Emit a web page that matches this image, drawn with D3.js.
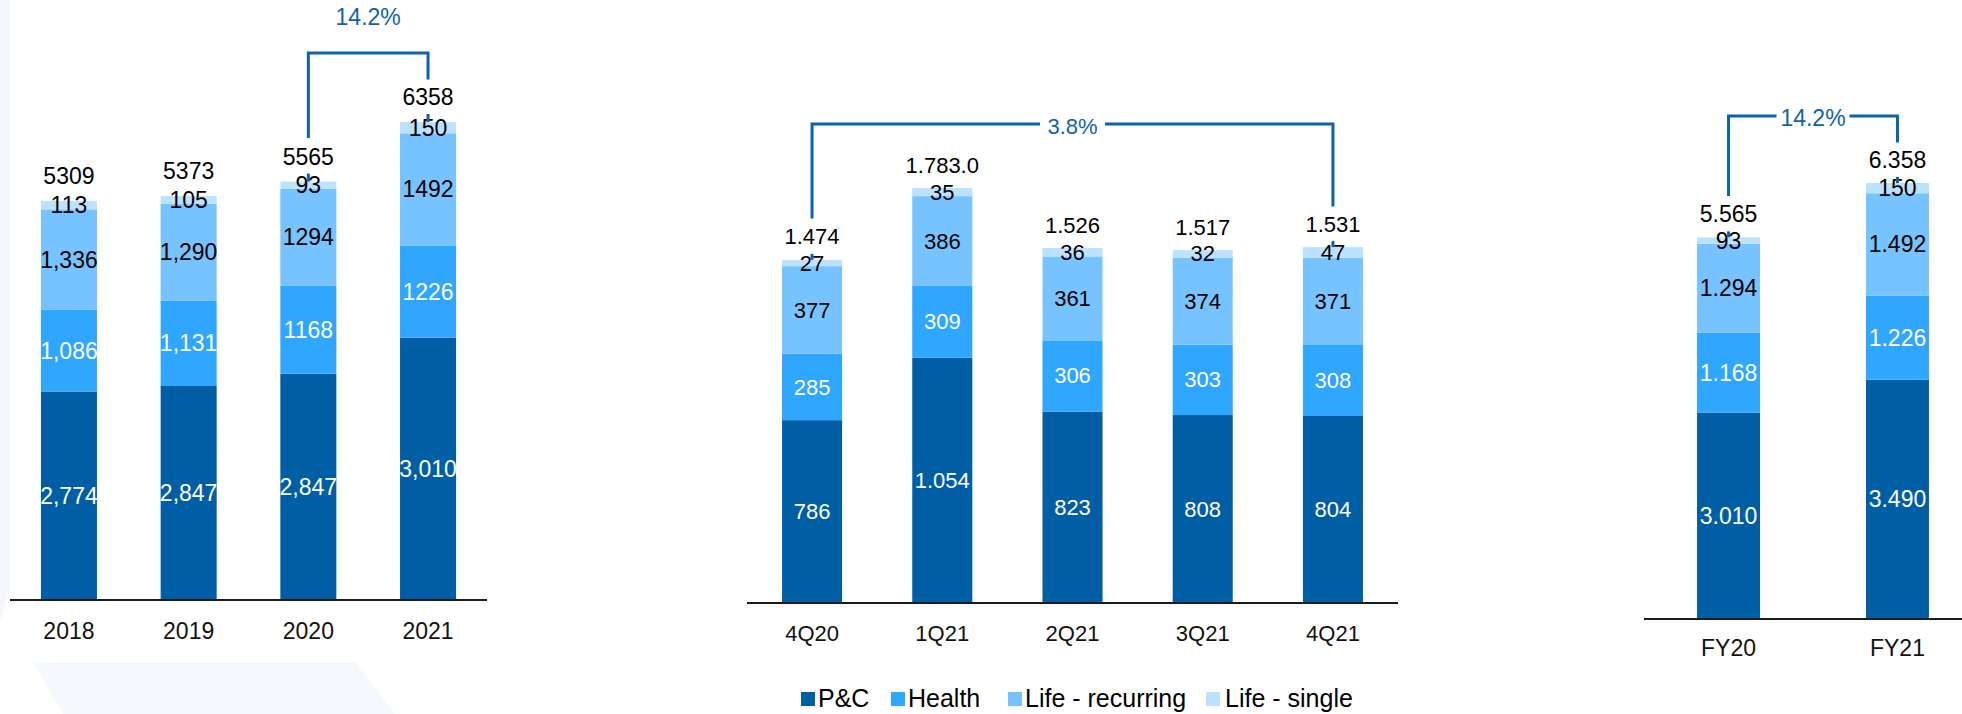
<!DOCTYPE html>
<html>
<head>
<meta charset="utf-8">
<script src="https://cdn.jsdelivr.net/npm/d3@7/dist/d3.min.js"></script>
<style>
  html, body { margin: 0; padding: 0; background: #ffffff; }
  svg { display: block; font-family: "Liberation Sans", Arial, sans-serif; }
</style>
</head>
<body>
<svg id="chart" width="1962" height="714"></svg>
<script>
// ---------------- DATA ----------------
const seriesNames = ["P&C", "Health", "Life - recurring", "Life - single"];

// Annual panel
const annualCats = ["2018", "2019", "2020", "2021"];
const annualPC = [2774, 2847, 3010, 3490];
const annualHealth = [1086, 1131, 1168, 1226];
const annualLifeRec = [1336, 1290, 1294, 1492];
const annualLifeSingle = [113, 105, 93, 150];
const annualPCLabels = ["2,774", "2,847", "2,847", "3,010"];
const annualHealthLabels = ["1,086", "1,131", "1168", "1226"];
const annualLifeRecLabels = ["1,336", "1,290", "1294", "1492"];
const annualLifeSingleLabels = ["113", "105", "93", "150"];
const annualTotalLabels = ["5309", "5373", "5565", "6358"];
const annualGrowth = "14.2%";

// Quarterly panel
const quarterCats = ["4Q20", "1Q21", "2Q21", "3Q21", "4Q21"];
const quarterPC = [786, 1054, 823, 808, 804];
const quarterHealth = [285, 309, 306, 303, 308];
const quarterLifeRec = [377, 386, 361, 374, 371];
const quarterLifeSingle = [27, 35, 36, 32, 47];
const quarterPCLabels = ["786", "1.054", "823", "808", "804"];
const quarterHealthLabels = ["285", "309", "306", "303", "308"];
const quarterLifeRecLabels = ["377", "386", "361", "374", "371"];
const quarterLifeSingleLabels = ["27", "35", "36", "32", "47"];
const quarterTotalLabels = ["1.474", "1.783.0", "1.526", "1.517", "1.531"];
const quarterGrowth = "3.8%";

// Full-year panel
const fyCats = ["FY20", "FY21"];
const fyPC = [3010, 3490];
const fyHealth = [1168, 1226];
const fyLifeRec = [1294, 1492];
const fyLifeSingle = [93, 150];
const fyPCLabels = ["3.010", "3.490"];
const fyHealthLabels = ["1.168", "1.226"];
const fyLifeRecLabels = ["1.294", "1.492"];
const fyLifeSingleLabels = ["93", "150"];
const fyTotalLabels = ["5.565", "6.358"];
const fyGrowth = "14.2%";

// ---------------- STYLE / LAYOUT ----------------
const colors = ["#005ea5", "#2fa6ff", "#76c3ff", "#bde2ff"];
const labelColors = ["#ffffff", "#ffffff", "#000000", "#000000"];
const bracketColor = "#0e63a8";

const panels = [
  {
    cats: annualCats,
    series: [annualPC, annualHealth, annualLifeRec, annualLifeSingle],
    labels: [annualPCLabels, annualHealthLabels, annualLifeRecLabels, annualLifeSingleLabels],
    totals: annualTotalLabels,
    growth: annualGrowth,
    xRange: [10, 487], pi: 0.532, po: 0.2585,
    base: 600, topPx: 122, topVal: 6358,
    font: 23, tickLabelY: 639, totalGap: 25,
    bracket: { from: 2, to: 3, y: 53, pctAbove: true, pctY: 25, gap: 0 }
  },
  {
    cats: quarterCats,
    series: [quarterPC, quarterHealth, quarterLifeRec, quarterLifeSingle],
    labels: [quarterPCLabels, quarterHealthLabels, quarterLifeRecLabels, quarterLifeSingleLabels],
    totals: quarterTotalLabels,
    growth: quarterGrowth,
    xRange: [747, 1398], pi: 0.539, po: 0.269,
    base: 603, topPx: 188, topVal: 1784,
    font: 22, tickLabelY: 641, totalGap: 23,
    bracket: { from: 0, to: 4, y: 124, pctAbove: false, gap: 34 }
  },
  {
    cats: fyCats,
    series: [fyPC, fyHealth, fyLifeRec, fyLifeSingle],
    labels: [fyPCLabels, fyHealthLabels, fyLifeRecLabels, fyLifeSingleLabels],
    totals: fyTotalLabels,
    growth: fyGrowth,
    xRange: [1644, 1982], pi: 0.627, po: 0.314,
    base: 619, topPx: 183, topVal: 6358,
    font: 23, tickLabelY: 656, totalGap: 23,
    bracket: { from: 0, to: 1, y: 116, pctAbove: false, gap: 38 }
  }
];

const legendSquareX = [801, 891, 1008, 1206];
const legendTextX = [818, 908, 1025, 1225];

// ---------------- DRAW ----------------
const svg = d3.select("#chart");

// faint background decorations
svg.append("polygon")
  .attr("points", "0,0 10,0 10,588 0,622")
  .attr("fill", "#f4f7fb");
svg.append("polygon")
  .attr("points", "33,662 355,662 395,714 63,714")
  .attr("fill", "#f5f8fc");

panels.forEach(p => {
  const rows = p.cats.map((c, i) => {
    const r = { cat: c };
    seriesNames.forEach((s, k) => r[s] = p.series[k][i]);
    return r;
  });
  const stacked = d3.stack().keys(seriesNames)(rows);

  const x = d3.scaleBand().domain(p.cats).range(p.xRange)
    .paddingInner(p.pi).paddingOuter(p.po);
  const y = d3.scaleLinear().domain([0, p.topVal]).range([p.base, p.topPx]);

  const g = svg.append("g");

  // bars
  stacked.forEach((layer, k) => {
    g.selectAll(null).data(layer).enter().append("rect")
      .attr("x", d => x(d.data.cat))
      .attr("width", x.bandwidth())
      .attr("y", d => y(d[1]))
      .attr("height", d => y(d[0]) - y(d[1]))
      .attr("fill", colors[k]);
  });

  // axis (baseline, categories)
  const axis = d3.axisBottom(x).tickSize(0).tickPadding(0);
  const ag = g.append("g").attr("transform", `translate(0,${p.base})`).call(axis);
  ag.select(".domain").attr("stroke", "#1a1a1a").attr("stroke-width", 2)
    .attr("d", `M${p.xRange[0]},0H${Math.min(p.xRange[1], 1962)}`);
  ag.selectAll(".tick text")
    .attr("y", p.tickLabelY - p.base)
    .attr("dy", 0)
    .attr("font-size", p.font)
    .attr("font-family", "Liberation Sans, Arial, sans-serif")
    .attr("fill", "#111");

  // segment labels
  stacked.forEach((layer, k) => {
    g.selectAll(null).data(layer).enter().append("text")
      .attr("x", d => x(d.data.cat) + x.bandwidth() / 2)
      .attr("y", d => (y(d[0]) + y(d[1])) / 2)
      .attr("text-anchor", "middle")
      .attr("dominant-baseline", "central")
      .attr("font-size", p.font)
      .attr("fill", labelColors[k])
      .text((d, i) => p.labels[k][i]);
  });

  // totals
  const tops = stacked[stacked.length - 1];
  const totalY = i => y(tops[i][1]) - p.totalGap;
  g.selectAll(null).data(tops).enter().append("text")
    .attr("x", d => x(d.data.cat) + x.bandwidth() / 2)
    .attr("y", (d, i) => totalY(i))
    .attr("text-anchor", "middle")
    .attr("dominant-baseline", "central")
    .attr("font-size", p.font)
    .attr("fill", "#000")
    .text((d, i) => p.totals[i]);

  // growth bracket
  const b = p.bracket;
  const cx = i => x(p.cats[i]) + x.bandwidth() / 2;
  const xa = cx(b.from), xb = cx(b.to);
  const ya = totalY(b.from) - 20, yb = totalY(b.to) - 19;
  const mid = (xa + xb) / 2;
  const line = (pts) => g.append("path").attr("d", d3.line()(pts))
    .attr("fill", "none").attr("stroke", bracketColor).attr("stroke-width", 3)
    .attr("stroke-linecap", "square");
  if (b.gap > 0) {
    line([[xa, ya], [xa, b.y], [mid - b.gap, b.y]]);
    line([[mid + b.gap, b.y], [xb, b.y], [xb, yb]]);
  } else {
    line([[xa, ya], [xa, b.y], [xb, b.y], [xb, yb]]);
  }
  // little ticks between total labels and bar tops
  [b.from, b.to].forEach(i => {
    const y0 = totalY(i) + 17, y1 = y(tops[i][1]);
    if (y1 > y0) {
      g.append("line").attr("x1", cx(i)).attr("x2", cx(i))
        .attr("y1", y0).attr("y2", y1)
        .attr("stroke", bracketColor).attr("stroke-width", 3);
    }
  });
  g.append("text")
    .attr("x", mid)
    .attr("y", b.pctAbove ? b.y - 36 : b.y + 2)
    .attr("text-anchor", "middle")
    .attr("dominant-baseline", "central")
    .attr("font-size", p.font)
    .attr("fill", bracketColor)
    .text(p.growth);
});

// legend
const lg = svg.append("g");
seriesNames.forEach((s, k) => {
  lg.append("rect").attr("x", legendSquareX[k]).attr("y", 692)
    .attr("width", 14).attr("height", 14).attr("fill", colors[k]);
  lg.append("text").attr("x", legendTextX[k]).attr("y", 707)
    .attr("font-size", 25).attr("fill", "#000").text(s);
});
</script>
</body>
</html>
